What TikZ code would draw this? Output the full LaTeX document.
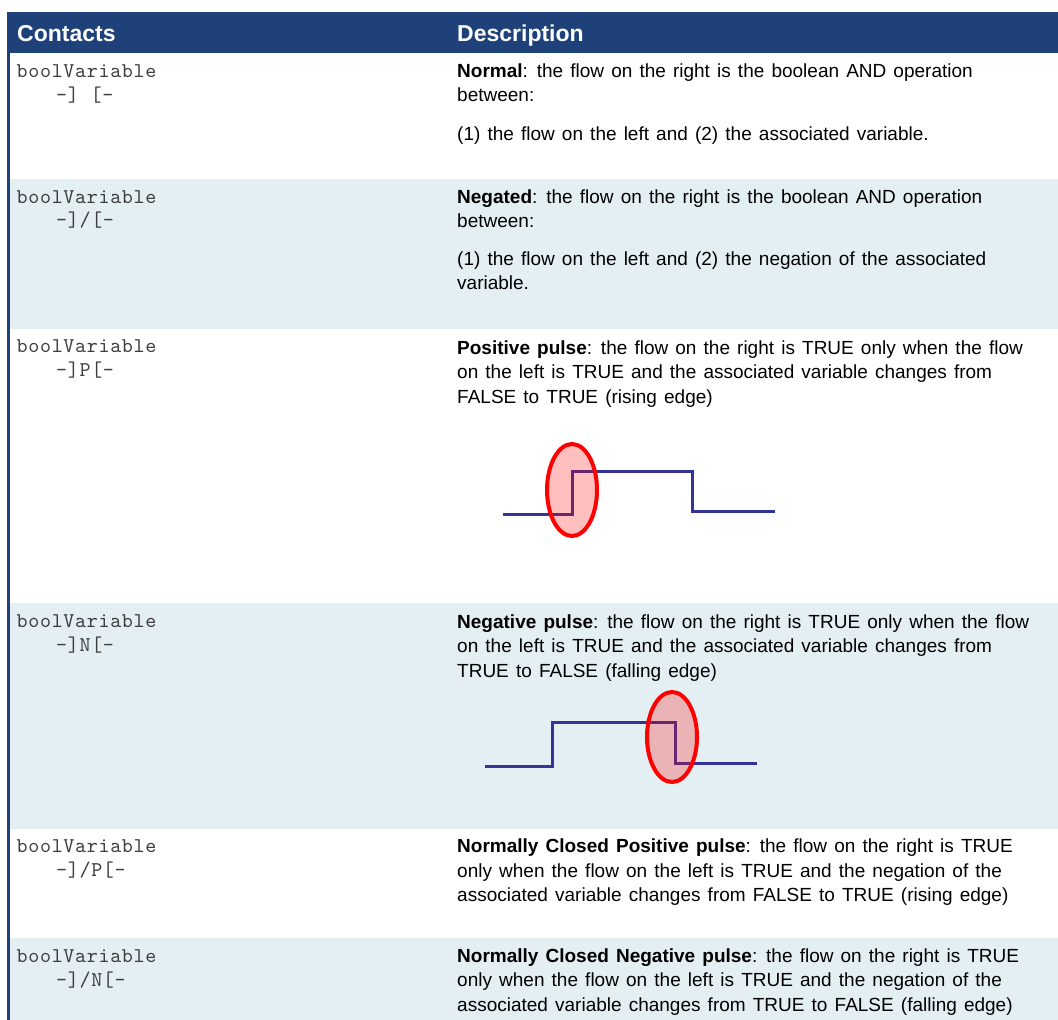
\documentclass[tikz,border=0pt]{standalone}
\usepackage{fontspec}
\setmainfont{Liberation Sans}[WordSpace=1.35]
\newfontfamily\codefont{lmmono10-regular.otf}[LetterSpace=3.2]
\definecolor{hb}{RGB}{31, 65, 122}
\definecolor{rb}{RGB}{228, 239, 244}
\definecolor{ct}{RGB}{62, 62, 62}
\definecolor{wv}{RGB}{52, 52, 150}

\begin{document}
\begin{tikzpicture}[
  hd/.style={anchor=base west, inner sep=0pt, text=white, font=\fontsize{23}{28}\selectfont\bfseries},
  cd/.style={anchor=base west, inner sep=0pt, text=ct, font=\codefont\fontsize{21}{24}\selectfont},
  ds/.style={anchor=base west, inner sep=0pt, text=black, font=\fontsize{19}{24}\selectfont},
  wave/.style={line width=3pt, color=wv},
  ring/.style={line width=4pt, draw=red, fill=red, fill opacity=0.25}]
\useasboundingbox (0pt, 0pt) rectangle (1058pt, -1020pt);
% header and shaded rows
\fill [hb] (7.0pt, -11.5pt) rectangle (1058.0pt, -53.0pt);
\fill [hb] (7.0pt, -53.0pt) rectangle (9.5pt, -1020.0pt);
\fill [rb] (9.5pt, -179.0pt) rectangle (1058.0pt, -328.5pt);
\fill [rb] (9.5pt, -603.0pt) rectangle (1058.0pt, -829.0pt);
\fill [rb] (9.5pt, -938.0pt) rectangle (1058.0pt, -1020.0pt);
\node (h1) [hd] at (17.0pt, -41.0pt) {Contacts};
\node (h2) [hd] at (457.0pt, -41.0pt) {Description};
% contacts column
\node (c1) [cd] at (16.5pt, -77.0pt) {boolVariable};
\node (c1s) [cd] at (56.0pt, -101.0pt) {-] [-};
\node (c2) [cd] at (16.5pt, -203.0pt) {boolVariable};
\node (c2s) [cd] at (56.0pt, -226.0pt) {-]/[-};
\node (c3) [cd] at (16.5pt, -352.5pt) {boolVariable};
\node (c3s) [cd] at (56.0pt, -376.0pt) {-]P[-};
\node (c4) [cd] at (16.5pt, -627.0pt) {boolVariable};
\node (c4s) [cd] at (56.0pt, -651.0pt) {-]N[-};
\node (c5) [cd] at (16.5pt, -852.0pt) {boolVariable};
\node (c5s) [cd] at (56.0pt, -876.0pt) {-]/P[-};
\node (c6) [cd] at (16.5pt, -962.0pt) {boolVariable};
\node (c6s) [cd] at (56.0pt, -986.0pt) {-]/N[-};
% description column
\node (d1a) [ds] at (457.0pt, -77.0pt) {\textbf{Normal}: the flow on the right is the boolean AND operation};
\node (d1b) [ds] at (457.0pt, -101.0pt) {between:};
\node (d1c) [ds] at (457.0pt, -140.0pt) {(1) the flow on the left and (2) the associated variable.};
\node (d2a) [ds] at (457.0pt, -203.0pt) {\textbf{Negated}: the flow on the right is the boolean AND operation};
\node (d2b) [ds] at (457.0pt, -227.0pt) {between:};
\node (d2c) [ds] at (457.0pt, -265.0pt) {(1) the flow on the left and (2) the negation of the associated};
\node (d2d) [ds] at (457.0pt, -289.0pt) {variable.};
\node (d3a) [ds] at (457.0pt, -354.0pt) {\textbf{Positive pulse}: the flow on the right is TRUE only when the flow};
\node (d3b) [ds] at (457.0pt, -378.5pt) {on the left is TRUE and the associated variable changes from};
\node (d3c) [ds] at (457.0pt, -403.0pt) {FALSE to TRUE (rising edge)};
\node (d4a) [ds] at (457.0pt, -628.0pt) {\textbf{Negative pulse}: the flow on the right is TRUE only when the flow};
\node (d4b) [ds] at (457.0pt, -652.5pt) {on the left is TRUE and the associated variable changes from};
\node (d4c) [ds] at (457.0pt, -677.0pt) {TRUE to FALSE (falling edge)};
\node (d5a) [ds] at (457.0pt, -852.5pt) {\textbf{Normally Closed Positive pulse}: the flow on the right is TRUE};
\node (d5b) [ds] at (457.0pt, -877.0pt) {only when the flow on the left is TRUE and the negation of the};
\node (d5c) [ds] at (457.0pt, -901.0pt) {associated variable changes from FALSE to TRUE (rising edge)};
\node (d6a) [ds] at (457.0pt, -962.0pt) {\textbf{Normally Closed Negative pulse}: the flow on the right is TRUE};
\node (d6b) [ds] at (457.0pt, -986.5pt) {only when the flow on the left is TRUE and the negation of the};
\node (d6c) [ds] at (457.0pt, -1011.0pt) {associated variable changes from TRUE to FALSE (falling edge)};
% rising edge
\draw [wave] (503.0pt, -514.0pt) -- (572.0pt, -514.0pt) -- (572.0pt, -471.0pt) -- (692.0pt, -471.0pt) -- (692.0pt, -511.0pt) -- (775.0pt, -511.0pt);
\draw [ring] (572.0pt, -490.0pt) ellipse [x radius=25pt, y radius=46pt];
% falling edge
\draw [wave] (485.0pt, -766.0pt) -- (552.0pt, -766.0pt) -- (552.0pt, -722.0pt) -- (675.0pt, -722.0pt) -- (675.0pt, -763.0pt) -- (757.0pt, -763.0pt);
\draw [ring] (672.0pt, -737.0pt) ellipse [x radius=25pt, y radius=45pt];
\end{tikzpicture}
\end{document}
